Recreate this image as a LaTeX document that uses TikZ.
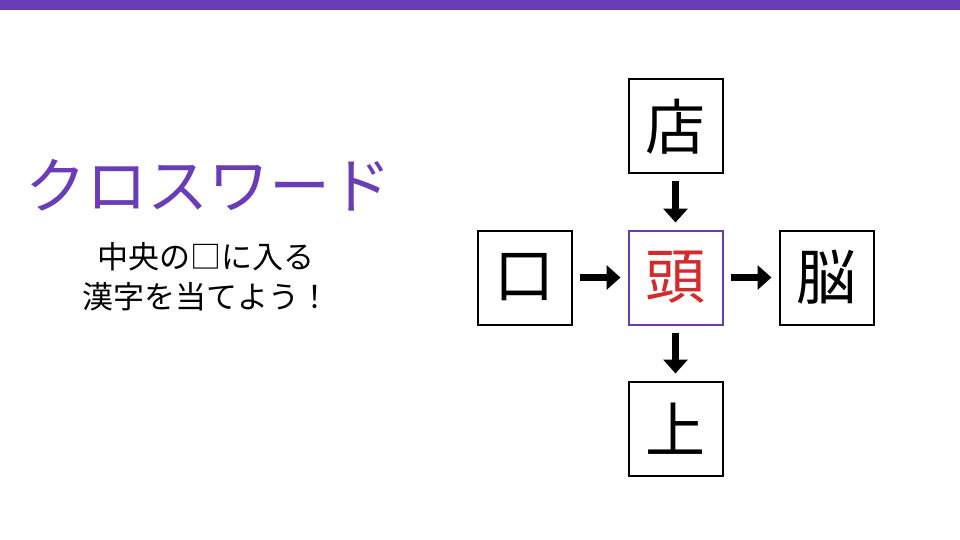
\documentclass[tikz,border=0pt]{standalone}
\usepackage{fontspec}
\newfontfamily\cjk{Noto Sans CJK JP}
\usetikzlibrary{positioning,arrows.meta}
\definecolor{quizpurple}{HTML}{6A3DB8}
\definecolor{quizred}{HTML}{D42A2A}
\tikzset{
  cell/.style={draw=black, line width=2pt, minimum size=94pt, inner sep=0pt, font=\cjk\fontsize{60}{60}\selectfont},
  link/.style={line width=7pt, -{Triangle[length=14pt,width=24pt]}}
}
\begin{document}
\begin{tikzpicture}[x=1pt,y=-1pt]
% Frame and top bar
\useasboundingbox (0,0) rectangle (960,540);
\fill[white] (0,0) rectangle (960,540);
\fill[quizpurple] (0,0) rectangle (960,10);

% Title and hint
\node[text=quizpurple, font=\cjk\fontsize{61}{61}\selectfont] (title) at (208,185) {クロスワード};
\node[align=center, font=\cjk\fontsize{31}{40}\selectfont] (hint) at (206,277) {中央の□に入る\\漢字を当てよう！};

% Cells
\node[cell, draw=quizpurple, text=quizred] (mid) at (675.5,277.5) {頭};
\node[cell, above=55pt of mid] (top) {店};
\node[cell, left=55pt of mid] (left) {口};
\node[cell, right=55pt of mid] (right) {脳};
\node[cell, below=55pt of mid] (bottom) {上};

% Arrows
\draw[link] ([yshift=-7pt]top.south) -- ([yshift=7pt]mid.north);
\draw[link] ([xshift=7pt]left.east) -- ([xshift=-7pt]mid.west);
\draw[link] ([xshift=7pt]mid.east) -- ([xshift=-7pt]right.west);
\draw[link] ([yshift=-7pt]mid.south) -- ([yshift=7pt]bottom.north);
\end{tikzpicture}
\end{document}
